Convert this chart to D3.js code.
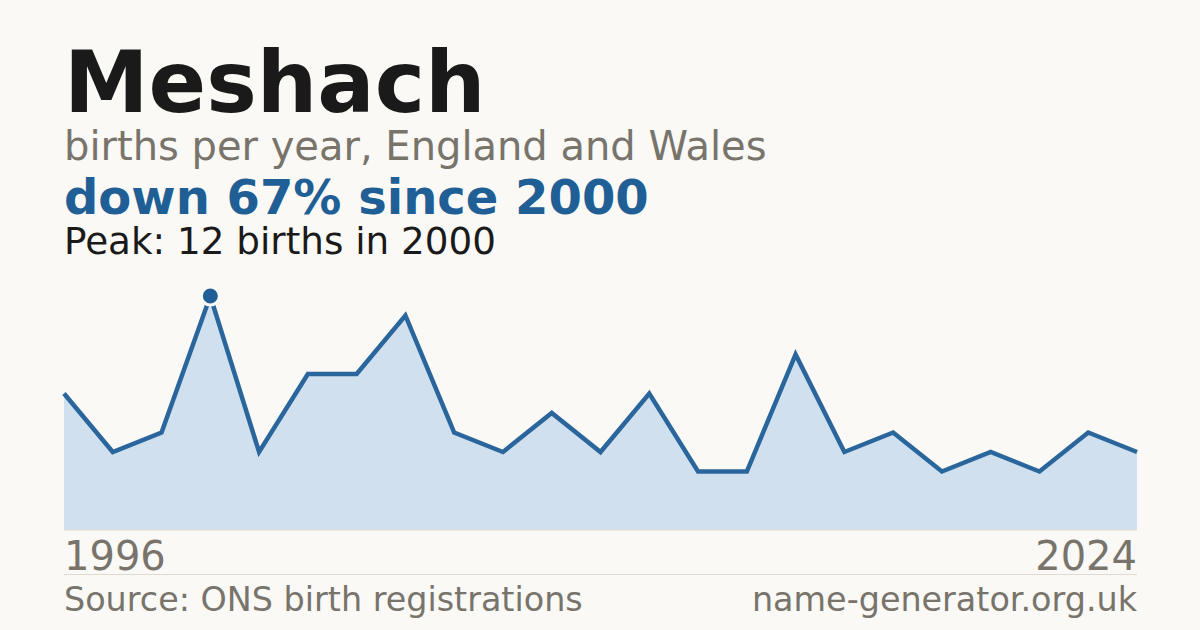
<!DOCTYPE html>
<html>
<head>
<meta charset="utf-8">
<script src="https://cdn.jsdelivr.net/npm/d3@7"></script>
<style>
  html, body { margin: 0; padding: 0; background: #faf9f5; }
  svg { display: block; font-family: "DejaVu Sans", sans-serif; }
</style>
</head>
<body>
<div id="chart"></div>
<script>
// births per year (years with no published count are left out)
var years = [1996, 1997, 1998, 2000, 2001, 2002, 2004, 2005, 2006, 2007, 2008, 2010,
             2011, 2013, 2014, 2016, 2017, 2018, 2020, 2021, 2022, 2023, 2024];
var births = [7, 4, 5, 12, 4, 8, 8, 11, 5, 4, 6, 4,
              7, 3, 3, 9, 4, 5, 3, 4, 3, 5, 4];
var axisLabels = ["1996", "2024"];

var width = 1200;
var height = 630;
var plotLeft = 64, plotRight = 1137, plotTop = 296, plotBottom = 530;

var data = [];
for (var i = 0; i < years.length; i++) {
    data.push({ year: years[i], value: births[i] });
}

var xScale = d3.scalePoint()
    .domain(years)
    .range([plotLeft, plotRight]);

var yScale = d3.scaleLinear()
    .domain([0, d3.max(births)])
    .range([plotBottom, plotTop]);

var svg = d3.select("#chart")
    .append("svg")
    .attr("width", width)
    .attr("height", height);

svg.append("rect")
    .attr("width", width)
    .attr("height", height)
    .attr("fill", "#faf9f5");

// headings
svg.append("text")
    .attr("x", 64).attr("y", 112)
    .attr("font-size", 85).attr("font-weight", "bold")
    .attr("fill", "#1a1a1a")
    .text("Meshach");

svg.append("text")
    .attr("x", 64).attr("y", 160)
    .attr("font-size", 40)
    .attr("fill", "#78746c")
    .text("births per year, England and Wales");

var peakIdx = births.indexOf(d3.max(births));
var last = births[births.length - 1];
var change = Math.round((last - births[peakIdx]) / births[peakIdx] * 100);

svg.append("text")
    .attr("x", 64).attr("y", 214)
    .attr("font-size", 48).attr("font-weight", "bold")
    .attr("fill", "#1f5f96")
    .text("down " + Math.abs(change) + "% since " + years[peakIdx]);

svg.append("text")
    .attr("x", 64).attr("y", 254)
    .attr("font-size", 37.3)
    .attr("fill", "#1a1a1a")
    .text("Peak: " + births[peakIdx] + " births in " + years[peakIdx]);

// area + line
var area = d3.area()
    .x(function(d) { return xScale(d.year); })
    .y0(yScale(0))
    .y1(function(d) { return yScale(d.value); });

var line = d3.line()
    .x(function(d) { return xScale(d.year); })
    .y(function(d) { return yScale(d.value); });

svg.append("path")
    .datum(data)
    .attr("d", area)
    .attr("fill", "#d0e0ef");

svg.append("line")
    .attr("x1", plotLeft).attr("x2", plotRight)
    .attr("y1", yScale(0)).attr("y2", yScale(0))
    .attr("stroke", "#e2ddd3")
    .attr("stroke-width", 1);

svg.append("path")
    .datum(data)
    .attr("d", line)
    .attr("fill", "none")
    .attr("stroke", "#2a669c")
    .attr("stroke-width", 4.5)
    .attr("stroke-linejoin", "miter");

svg.append("circle")
    .attr("cx", xScale(years[peakIdx]))
    .attr("cy", yScale(births[peakIdx]))
    .attr("r", 9)
    .attr("fill", "#1f5f96")
    .attr("stroke", "#faf9f5")
    .attr("stroke-width", 3);

// axis end labels
svg.append("text")
    .attr("x", plotLeft).attr("y", 570)
    .attr("font-size", 40)
    .attr("fill", "#78746c")
    .text(axisLabels[0]);

svg.append("text")
    .attr("x", plotRight).attr("y", 570)
    .attr("text-anchor", "end")
    .attr("font-size", 40)
    .attr("fill", "#78746c")
    .text(axisLabels[1]);

svg.append("line")
    .attr("x1", plotLeft).attr("x2", plotRight)
    .attr("y1", 574.5).attr("y2", 574.5)
    .attr("stroke", "#dedad2")
    .attr("stroke-width", 1);

// footer
svg.append("text")
    .attr("x", plotLeft).attr("y", 611)
    .attr("font-size", 33.4)
    .attr("fill", "#78746c")
    .text("Source: ONS birth registrations");

svg.append("text")
    .attr("x", plotRight).attr("y", 611)
    .attr("text-anchor", "end")
    .attr("font-size", 33.4)
    .attr("fill", "#78746c")
    .text("name-generator.org.uk");
</script>
</body>
</html>
